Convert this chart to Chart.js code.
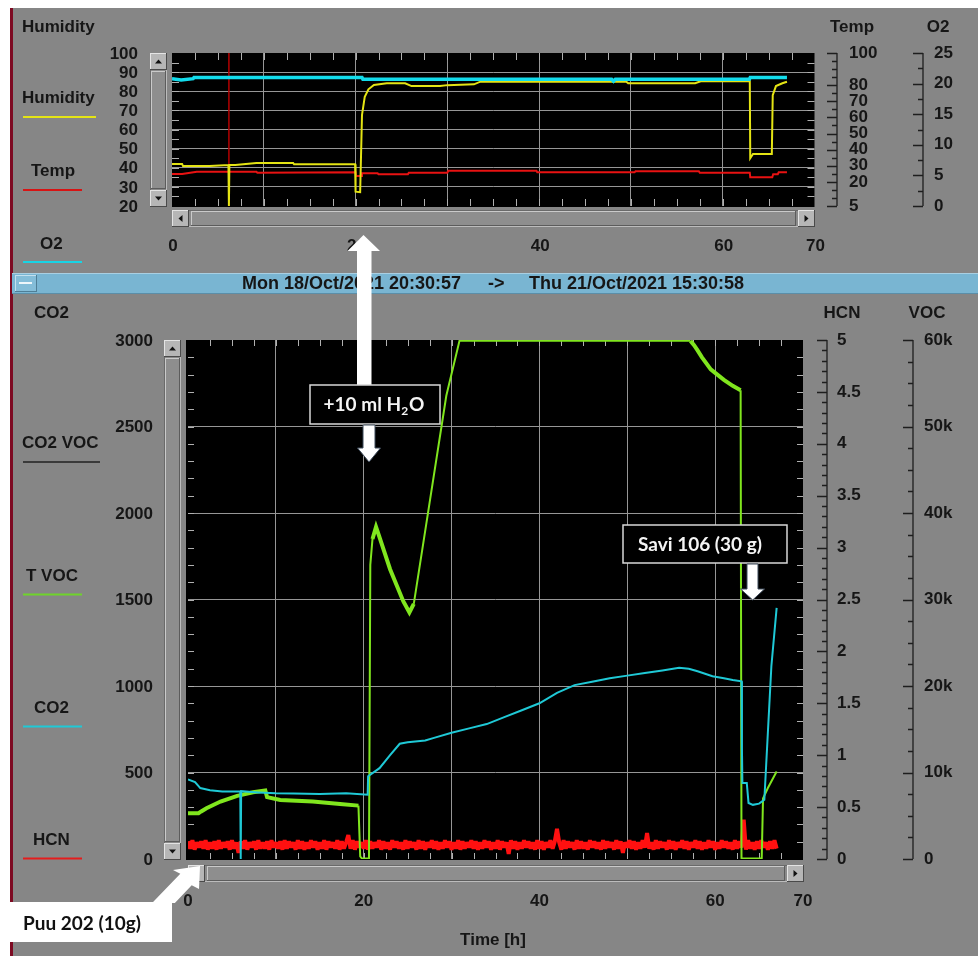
<!DOCTYPE html>
<html>
<head>
<meta charset="utf-8">
<script src="https://cdn.jsdelivr.net/npm/chart.js"></script>
<style>
  html, body { margin: 0; padding: 0; background: #ffffff; }
  body { width: 978px; height: 959px; position: relative; overflow: hidden; }
  #panel { position: absolute; left: 10px; top: 8px; width: 968px; height: 948px;
           background: #868686; border-left: 3px solid #7d0a22; box-sizing: border-box; }
  canvas { position: absolute; left: 0; top: 0; }
</style>
</head>
<body>
<div id="panel"></div>
<canvas id="upper" width="978" height="959"></canvas>
<canvas id="lower" width="978" height="959"></canvas>
<script>
// ---------- upper panel: humidity (%), temperature (°C), oxygen (%) vs time [h] ----------
const humTime = [0, 1.1, 1.2, 4.1, 6.15, 6.2, 6.25, 6.9, 9.2, 13.2, 13.3, 19.95, 20.0, 20.5, 20.7, 21.0, 21.4, 22.0, 23.4, 25.4, 26.1, 29.2, 30.0, 32.9, 33.6, 49.5, 49.7, 57.0, 57.6, 62.95, 63.0, 63.3, 65.35, 65.45, 65.8, 66.5, 67.0];
const humVal  = [42.0, 42.0, 40.9, 40.9, 41.4, 20.0, 41.4, 41.4, 42.5, 42.5, 41.8, 41.8, 27.5, 27.2, 67.6, 77.1, 81.0, 83.3, 84.2, 84.2, 82.7, 82.7, 83.2, 83.6, 85.0, 85.0, 84.2, 84.2, 85.2, 85.2, 45.0, 47.2, 47.2, 78.0, 82.7, 84.2, 85.0];

const tempTime = [0, 1.1, 2.7, 9.2, 9.3, 20.0, 20.05, 20.6, 20.7, 22.4, 22.5, 25.7, 25.8, 30.0, 30.1, 39.7, 39.8, 50.4, 50.5, 57.4, 57.5, 62.95, 63.0, 65.4, 65.5, 66.0, 66.1, 67.0];
const tempVal  = [24.9, 24.9, 26.3, 26.3, 25.7, 25.9, 23.6, 23.6, 25.3, 25.3, 24.7, 24.7, 25.7, 25.7, 26.9, 26.9, 25.9, 25.9, 26.6, 26.6, 25.7, 25.7, 22.8, 22.8, 24.7, 24.7, 25.9, 25.9];

const o2Time = [0, 1.0, 2.3, 2.4, 20.7, 20.8, 47.9, 48.1, 48.3, 62.9, 63.0, 67.0];
const o2Val  = [20.8, 20.6, 20.8, 21.0, 21.0, 20.7, 20.7, 20.4, 20.7, 20.7, 21.0, 21.0];

const cursorTime = 6.2;

const humTicks  = [100, 90, 80, 70, 60, 50, 40, 30, 20];
const tempTicks = [100, 80, 70, 60, 50, 40, 30, 20, 5];
const o2Ticks   = [25, 20, 15, 10, 5, 0];
const timeTicks = [0, 20, 40, 60, 70];

// ---------- lower panel: CO2 (ppm), total VOC, HCN (ppm) vs time [h] ----------
const co2Time = [0, 0.8, 1.4, 2.5, 3.9, 5.95, 6.0, 6.05, 8, 10, 12, 15, 18, 20.45, 20.5, 21.8, 23.0, 24.1, 25.0, 27.0, 28.0, 30, 32, 34, 36, 38, 40, 42, 44, 46, 48, 50, 52, 54, 55.9, 57, 58, 59.7, 61, 62, 63.0, 63.05, 63.1, 63.6, 63.8, 64.3, 65.0, 65.6, 66.0, 66.4, 67.0];
const co2Val  = [460, 445, 410, 398, 390, 392, 0, 392, 385, 380, 378, 376, 380, 372, 478, 525, 600, 666, 675, 685, 700, 730, 755, 780, 820, 860, 900, 960, 1005, 1025, 1045, 1060, 1075, 1090, 1105, 1100, 1085, 1056, 1045, 1035, 1027, 640, 440, 440, 324, 313, 320, 342, 730, 1114, 1452];

const vocTime = [0, 1.2, 1.5, 2.1, 3.7, 5.6, 7.4, 8.8, 9.0, 10.5, 14.2, 17.3, 19.4, 19.6, 19.8, 20.6, 20.75, 21.0, 21.4, 21.7, 23.0, 24.5, 25.2, 25.7, 27.5, 29.4, 30.9, 57.2, 57.6, 58.0, 58.5, 59.0, 59.5, 60.0, 61.0, 62.0, 62.9, 63.0, 65.3, 65.45, 66.0, 67.0];
const vocVal  = [5290, 5300, 5500, 5870, 6640, 7300, 7720, 7910, 7150, 6830, 6640, 6370, 6170, 300, 50, 50, 34000, 37000, 38400, 37500, 33500, 29800, 28500, 29500, 41200, 53550, 59900, 59900, 59400, 58800, 58000, 57300, 56600, 56200, 55400, 54700, 54200, 50, 50, 7000, 8200, 10110];

// HCN logged every quarter hour from t = 0
const hcnStep = 0.25;
const hcnVal = [
  0.17, 0.10, 0.18, 0.09, 0.16, 0.11, 0.17, 0.10, 0.18, 0.09,
  0.16, 0.10, 0.17, 0.09, 0.18, 0.10, 0.16, 0.11, 0.17, 0.09,
  0.18, 0.10, 0.16, 0.06, 0.17, 0.10, 0.18, 0.09, 0.16, 0.11,
  0.17, 0.09, 0.18, 0.10, 0.16, 0.10, 0.17, 0.09, 0.18, 0.11,
  0.16, 0.10, 0.17, 0.09, 0.18, 0.10, 0.17, 0.11, 0.16, 0.09,
  0.18, 0.10, 0.17, 0.09, 0.16, 0.10, 0.18, 0.11, 0.17, 0.09,
  0.16, 0.10, 0.18, 0.09, 0.17, 0.11, 0.16, 0.10, 0.18, 0.09,
  0.17, 0.10, 0.16, 0.23, 0.10, 0.18, 0.09, 0.17, 0.11, 0.16,
  0.10, 0.18, 0.09, 0.17, 0.10, 0.16, 0.11, 0.18, 0.09, 0.17,
  0.10, 0.16, 0.09, 0.18, 0.11, 0.17, 0.10, 0.16, 0.09, 0.18,
  0.10, 0.17, 0.11, 0.16, 0.09, 0.18, 0.10, 0.17, 0.09, 0.16,
  0.11, 0.18, 0.10, 0.17, 0.09, 0.16, 0.10, 0.18, 0.11, 0.17,
  0.09, 0.16, 0.10, 0.18, 0.09, 0.17, 0.10, 0.16, 0.11, 0.18,
  0.10, 0.17, 0.09, 0.16, 0.10, 0.18, 0.11, 0.17, 0.09, 0.16,
  0.10, 0.18, 0.09, 0.17, 0.11, 0.16, 0.05, 0.18, 0.10, 0.17,
  0.09, 0.16, 0.10, 0.18, 0.11, 0.17, 0.10, 0.16, 0.09, 0.18,
  0.10, 0.17, 0.09, 0.16, 0.11, 0.18, 0.10, 0.17, 0.29, 0.16,
  0.09, 0.18, 0.10, 0.17, 0.11, 0.16, 0.09, 0.18, 0.10, 0.17,
  0.10, 0.16, 0.09, 0.18, 0.11, 0.17, 0.10, 0.16, 0.09, 0.18,
  0.10, 0.17, 0.11, 0.16, 0.09, 0.18, 0.10, 0.17, 0.06, 0.16,
  0.11, 0.18, 0.10, 0.17, 0.09, 0.16, 0.10, 0.18, 0.11, 0.25,
  0.10, 0.16, 0.09, 0.18, 0.10, 0.17, 0.11, 0.16, 0.09, 0.18,
  0.10, 0.17, 0.09, 0.16, 0.11, 0.18, 0.10, 0.17, 0.09, 0.16,
  0.11, 0.18, 0.10, 0.17, 0.09, 0.16, 0.10, 0.18, 0.11, 0.17,
  0.09, 0.16, 0.10, 0.18, 0.11, 0.17, 0.10, 0.16, 0.09, 0.18,
  0.10, 0.17, 0.11, 0.38, 0.09, 0.18, 0.10, 0.16, 0.09, 0.17,
  0.10, 0.18, 0.11, 0.16, 0.09, 0.17, 0.10, 0.18, 0.10
];

const co2Ticks = [3000, 2500, 2000, 1500, 1000, 500, 0];
const hcnTicks = [5, 4.5, 4, 3.5, 3, 2.5, 2, 1.5, 1, 0.5, 0];
const vocTicks = [60000, 50000, 40000, 30000, 20000, 10000, 0];
const vocTickLabels = ['60k', '50k', '40k', '30k', '20k', '10k', '0'];

// ---------- helpers ----------
const TXT = '#161616';
const FONT = 'bold 17px "Liberation Sans", Arial, sans-serif';
const HEAD_FONT = 'bold 18px "Liberation Sans", Arial, sans-serif';
const NOTE_FONT = 'bold 19px Lato, "Open Sans", sans-serif';
const NOTE_SUB = 'bold 12px Lato, "Open Sans", sans-serif';
const GRID = '#969696';
const INNER_TICK = '#b0b0b0';

function pts(t, v) { return t.map((x, i) => ({ x: x, y: v[i] })); }

function label(ctx, s, x, y, align, font, color) {
  ctx.font = font || FONT;
  ctx.fillStyle = color || TXT;
  ctx.textAlign = align || 'left';
  ctx.textBaseline = 'middle';
  ctx.fillText(s, x, y);
}

function hline(ctx, x1, x2, y, color, w) {
  ctx.strokeStyle = color; ctx.lineWidth = w || 2;
  ctx.beginPath(); ctx.moveTo(x1, y); ctx.lineTo(x2, y); ctx.stroke();
}

function bevel(ctx, x, y, w, h, fill, hi, lo) {
  ctx.fillStyle = fill; ctx.fillRect(x, y, w, h);
  ctx.fillStyle = hi; ctx.fillRect(x, y, w, 1); ctx.fillRect(x, y, 1, h);
  ctx.fillStyle = lo; ctx.fillRect(x, y + h - 1, w, 1); ctx.fillRect(x + w - 1, y, 1, h);
}

function button(ctx, x, y, w, h, dir) {
  bevel(ctx, x, y, w, h, '#b6b6b6', '#e4e4e4', '#4a4a4a');
  const cx = x + w / 2, cy = y + h / 2, s = 3.5;
  ctx.fillStyle = '#111';
  ctx.beginPath();
  if (dir === 'up')    { ctx.moveTo(cx - s, cy + 2); ctx.lineTo(cx + s, cy + 2); ctx.lineTo(cx, cy - 2); }
  if (dir === 'down')  { ctx.moveTo(cx - s, cy - 2); ctx.lineTo(cx + s, cy - 2); ctx.lineTo(cx, cy + 2); }
  if (dir === 'left')  { ctx.moveTo(cx + 2, cy - s); ctx.lineTo(cx + 2, cy + s); ctx.lineTo(cx - 2, cy); }
  if (dir === 'right') { ctx.moveTo(cx - 2, cy - s); ctx.lineTo(cx - 2, cy + s); ctx.lineTo(cx + 2, cy); }
  ctx.closePath(); ctx.fill();
}

function vScrollbar(ctx, x, y1, y2) {
  const w = 17;
  bevel(ctx, x, y1, w, y2 - y1, '#8a8a8a', '#6a6a6a', '#bcbcbc');
  button(ctx, x, y1, w, 17, 'up');
  button(ctx, x, y2 - 17, w, 17, 'down');
  bevel(ctx, x + 1, y1 + 18, w - 2, y2 - y1 - 36, '#8e8e8e', '#cacaca', '#5c5c5c');
}

function hScrollbar(ctx, x1, x2, y, leftBtn) {
  const h = 17;
  bevel(ctx, x1, y, x2 - x1, h, '#8a8a8a', '#6a6a6a', '#bcbcbc');
  if (leftBtn) button(ctx, x1, y, 17, h, 'left');
  button(ctx, x2 - 17, y, 17, h, 'right');
  bevel(ctx, x1 + 19, y + 1, x2 - x1 - 38, h - 2, '#8e8e8e', '#cacaca', '#5c5c5c');
}

// ticks pointing into the plot from all four edges
function innerTicks(ctx, ca, xs, ys, xStep, xCount, yMin, yStep, yCount, len) {
  ctx.strokeStyle = INNER_TICK; ctx.lineWidth = 1;
  ctx.beginPath();
  for (let i = 1; i < xCount; i++) {
    const x = Math.round(xs.getPixelForValue(i * xStep)) + 0.5;
    ctx.moveTo(x, ca.top); ctx.lineTo(x, ca.top + len);
    ctx.moveTo(x, ca.bottom); ctx.lineTo(x, ca.bottom - len);
  }
  for (let i = 1; i < yCount; i++) {
    const y = Math.round(ys.getPixelForValue(yMin + i * yStep)) + 0.5;
    ctx.moveTo(ca.left, y); ctx.lineTo(ca.left + len, y);
    ctx.moveTo(ca.right, y); ctx.lineTo(ca.right - len, y);
  }
  ctx.stroke();
}

// detached vertical axis with long ticks at labelled values and short ones between
function sideAxis(ctx, scale, lineX, majors, minorStep, minorCount, minVal, labels, labelX) {
  ctx.strokeStyle = '#1e1e1e'; ctx.lineWidth = 1.3;
  ctx.beginPath();
  const yTop = scale.getPixelForValue(scale.max), yBot = scale.getPixelForValue(scale.min);
  ctx.moveTo(lineX, yTop); ctx.lineTo(lineX, yBot);
  for (let i = 0; i <= minorCount; i++) {
    const y = Math.round(scale.getPixelForValue(minVal + i * minorStep)) + 0.5;
    ctx.moveTo(lineX - 5, y); ctx.lineTo(lineX, y);
  }
  majors.forEach(v => {
    const y = Math.round(scale.getPixelForValue(v)) + 0.5;
    ctx.moveTo(lineX - 10, y); ctx.lineTo(lineX, y);
  });
  ctx.stroke();
  majors.forEach((v, i) => label(ctx, labels[i], labelX, scale.getPixelForValue(v), 'left'));
}

function arrow(ctx, poly, outline) {
  ctx.fillStyle = '#ffffff';
  ctx.beginPath();
  poly.forEach((p, i) => i ? ctx.lineTo(p[0], p[1]) : ctx.moveTo(p[0], p[1]));
  ctx.closePath(); ctx.fill();
  if (outline) { ctx.strokeStyle = outline; ctx.lineWidth = 1; ctx.stroke(); }
}

function noteBox(ctx, x, y, w, h) {
  ctx.fillStyle = '#000'; ctx.fillRect(x, y, w, h);
  ctx.strokeStyle = '#d8d8d8'; ctx.lineWidth = 1.5; ctx.strokeRect(x, y, w, h);
}

function hiddenEdges(min, max) {
  return (c) => (c.tick && (c.tick.value <= min || c.tick.value >= max)) ? 'rgba(0,0,0,0)' : GRID;
}

function baseOptions(pad) {
  return {
    responsive: false, animation: false, devicePixelRatio: 1, events: [],
    layout: { padding: pad, autoPadding: false },
    plugins: { legend: { display: false }, tooltip: { enabled: false } },
    elements: { point: { radius: 0 }, line: { tension: 0 } }
  };
}

function gridAxis(min, max, step, horizontal) {
  return {
    type: 'linear', min: min, max: max,
    ticks: { display: false, stepSize: step },
    grid: { color: hiddenEdges(min, max), drawTicks: false, lineWidth: 1 },
    border: { display: false },
    afterFit: s => { if (horizontal) s.height = 0; else s.width = 0; }
  };
}

// ---------- upper chart ----------
const upperDecor = {
  id: 'upperDecor',
  beforeDraw(chart) {
    const { ctx, chartArea: ca } = chart;
    ctx.fillStyle = '#000';
    ctx.fillRect(ca.left, ca.top, ca.right - ca.left, ca.bottom - ca.top + 1);
  },
  beforeDatasetsDraw(chart) {
    const { ctx, chartArea: ca, scales } = chart;
    innerTicks(ctx, ca, scales.x, scales.yHum, 2.5, 28, 20, 5, 16, 7);
    const xc = scales.x.getPixelForValue(cursorTime);
    ctx.strokeStyle = '#b40000'; ctx.lineWidth = 1.5;
    ctx.beginPath(); ctx.moveTo(xc, ca.top); ctx.lineTo(xc, ca.bottom); ctx.stroke();
  },
  afterDraw(chart) {
    const { ctx, scales } = chart;
    // titles and legend
    label(ctx, 'Humidity', 22, 27);
    label(ctx, 'Temp', 852, 27, 'center');
    label(ctx, 'O2', 938, 27, 'center');
    label(ctx, 'Humidity', 22, 98);  hline(ctx, 23, 96, 117, '#e4e414');
    label(ctx, 'Temp', 31, 171);     hline(ctx, 23, 82, 190, '#d81414');
    label(ctx, 'O2', 40, 244);       hline(ctx, 23, 82, 262, '#18d4e4');
    // left value labels
    humTicks.forEach(v => label(ctx, String(v), 138, scales.yHum.getPixelForValue(v) + 1, 'right'));
    // right axes
    sideAxis(ctx, scales.yTemp, 837, tempTicks, 5, 19, 5, tempTicks.map(String), 849);
    sideAxis(ctx, scales.yO2, 923, o2Ticks, 2.5, 10, 0, o2Ticks.map(String), 934);
    // time labels
    timeTicks.forEach(v => label(ctx, String(v), scales.x.getPixelForValue(v) + 1, 246, 'center'));
    // scroll bars
    vScrollbar(ctx, 150, 53, 207);
    hScrollbar(ctx, 172, 815, 210, true);
  }
};

new Chart(document.getElementById('upper'), {
  type: 'line',
  data: {
    datasets: [
      { label: 'O2', data: pts(o2Time, o2Val), yAxisID: 'yO2', borderColor: '#12dcec', borderWidth: 3.5 },
      { label: 'Humidity', data: pts(humTime, humVal), yAxisID: 'yHum', borderColor: '#e4e414', borderWidth: 2 },
      { label: 'Temp', data: pts(tempTime, tempVal), yAxisID: 'yTemp', borderColor: '#e81212', borderWidth: 2 }
    ]
  },
  options: Object.assign(baseOptions({ left: 172, top: 53, right: 163.5, bottom: 753 }), {
    scales: {
      x: Object.assign(gridAxis(0, 70, 10, true), { position: 'bottom' }),
      yHum: Object.assign(gridAxis(20, 100, 10, false), { position: 'left' }),
      yTemp: { type: 'linear', display: false, min: 5, max: 100 },
      yO2: { type: 'linear', display: false, min: 0, max: 25 }
    }
  }),
  plugins: [upperDecor]
});

// ---------- lower chart ----------
const vocThick = [[0, 19.5], [21.0, 25.8], [57.2, 62.95]];
function inThick(t0, t1) { return vocThick.some(r => t0 >= r[0] && t1 <= r[1]); }

const lowerDecor = {
  id: 'lowerDecor',
  beforeDraw(chart) {
    const { ctx, chartArea: ca } = chart;
    // session bar
    ctx.fillStyle = '#79b5d2'; ctx.fillRect(12, 273, 966, 21);
    ctx.fillStyle = '#a9cfe2'; ctx.fillRect(12, 273, 966, 1);
    ctx.fillStyle = '#5b8ea8'; ctx.fillRect(12, 293, 966, 1);
    bevel(ctx, 15, 275, 22, 17, '#84bdd8', '#c4e0ee', '#4f7e96');
    ctx.fillStyle = '#eef6fa'; ctx.fillRect(19, 282, 13, 2);
    label(ctx, 'Mon 18/Oct/2021 20:30:57', 242, 284, 'left', HEAD_FONT);
    label(ctx, '->', 488, 284, 'left', HEAD_FONT);
    label(ctx, 'Thu 21/Oct/2021 15:30:58', 529, 284, 'left', HEAD_FONT);
    // plot background
    ctx.fillStyle = '#000';
    ctx.fillRect(ca.left - 2, ca.top, ca.right - ca.left + 2, ca.bottom - ca.top + 1);
  },
  beforeDatasetsDraw(chart) {
    const { ctx, chartArea: ca, scales } = chart;
    innerTicks(ctx, ca, scales.x, scales.yCO2, 2.5, 28, 0, 100, 30, 6);
  },
  afterDraw(chart) {
    const { ctx, scales } = chart;
    // titles and legend
    label(ctx, 'CO2', 34, 313);
    label(ctx, 'HCN', 842, 313, 'center');
    label(ctx, 'VOC', 927, 313, 'center');
    label(ctx, 'CO2 VOC', 22, 443); hline(ctx, 23, 100, 462, '#3a3a3a');
    label(ctx, 'T VOC', 26, 576);   hline(ctx, 23, 82, 594.5, '#6fd42a');
    label(ctx, 'CO2', 34, 708);     hline(ctx, 23, 82, 726.5, '#1fc9d6');
    label(ctx, 'HCN', 33, 840);     hline(ctx, 23, 82, 858.5, '#e41c1c');
    // left value labels
    co2Ticks.forEach(v => label(ctx, String(v), 153, scales.yCO2.getPixelForValue(v) + 1, 'right'));
    // right axes
    sideAxis(ctx, scales.yHCN, 827, hcnTicks, 0.1, 50, 0, hcnTicks.map(String), 837);
    sideAxis(ctx, scales.yVOC, 913, vocTicks, 2500, 24, 0, vocTickLabels, 924);
    // time axis
    timeTicks.forEach(v => label(ctx, String(v), scales.x.getPixelForValue(v), 901, 'center'));
    label(ctx, 'Time [h]', 493, 940, 'center');
    // scroll bars
    vScrollbar(ctx, 164, 340, 860);
    hScrollbar(ctx, 188, 804, 865, true);

    // annotations
    arrow(ctx, [[357, 385], [357, 251], [347.5, 251], [363.5, 235], [380, 251], [371.5, 251], [371.5, 385]]);
    noteBox(ctx, 310, 385, 130, 39);
    ctx.font = NOTE_FONT;
    const a = '+10 ml H', b = '2', c = 'O';
    const wa = ctx.measureText(a).width, wc = ctx.measureText(c).width;
    ctx.font = NOTE_SUB;
    const wb = ctx.measureText(b).width;
    const x0 = 374 - (wa + wb + wc + 1) / 2;
    label(ctx, a, x0, 405, 'left', NOTE_FONT, '#f4f4f4');
    label(ctx, b, x0 + wa, 411, 'left', NOTE_SUB, '#f4f4f4');
    label(ctx, c, x0 + wa + wb + 1, 405, 'left', NOTE_FONT, '#f4f4f4');
    arrow(ctx, [[363, 425], [375, 425], [375, 448], [380.5, 448], [369, 462], [357.5, 448], [363, 448]], '#3d4a5a');

    noteBox(ctx, 623, 525, 164, 38);
    label(ctx, 'Savi 106 (30 g)', 700, 545, 'center', NOTE_FONT, '#f4f4f4');
    arrow(ctx, [[747, 564], [758, 564], [758, 589], [764.5, 589], [752.7, 600], [740.5, 589], [747, 589]], '#3d4a5a');

    arrow(ctx, [[200, 866], [199, 889], [191.7, 885.2], [174.9, 903], [152.1, 903], [180.3, 873.8], [173, 870]]);
    ctx.fillStyle = '#ffffff'; ctx.fillRect(8, 902, 164, 40);
    label(ctx, 'Puu 202 (10g)', 23, 924, 'left', NOTE_FONT, '#111');
  }
};

new Chart(document.getElementById('lower'), {
  type: 'line',
  data: {
    datasets: [
      { label: 'CO2', data: pts(co2Time, co2Val), yAxisID: 'yCO2', borderColor: '#1fc9d6', borderWidth: 2 },
      { label: 'T VOC', data: pts(vocTime, vocVal), yAxisID: 'yVOC', borderColor: '#80e61e', borderWidth: 2,
        segment: { borderWidth: c => inThick(c.p0.parsed.x, c.p1.parsed.x) ? 4 : 2 } },
      { label: 'HCN', data: hcnVal.map((v, i) => ({ x: i * hcnStep, y: v })), yAxisID: 'yHCN',
        borderColor: '#ff1010', borderWidth: 4, borderJoinStyle: 'bevel' }
    ]
  },
  options: Object.assign(baseOptions({ left: 188, top: 340, right: 175, bottom: 100 }), {
    scales: {
      x: Object.assign(gridAxis(0, 70, 10, true), { position: 'bottom' }),
      yCO2: Object.assign(gridAxis(0, 3000, 500, false), { position: 'left' }),
      yHCN: { type: 'linear', display: false, min: 0, max: 5 },
      yVOC: { type: 'linear', display: false, min: 0, max: 60000 }
    }
  }),
  plugins: [lowerDecor]
});
</script>
</body>
</html>
